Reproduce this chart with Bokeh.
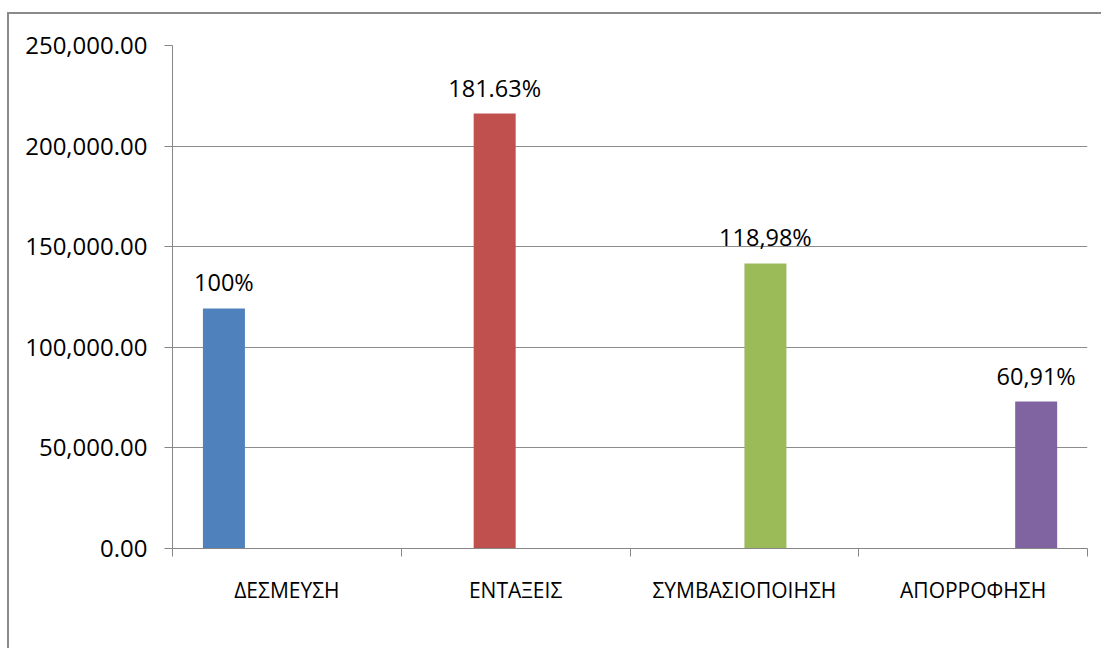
from bokeh.plotting import figure
from bokeh.models import Range1d, FixedTicker, NumeralTickFormatter, ColumnDataSource
from bokeh.embed import file_html
from bokeh.resources import INLINE
from bokeh.core.properties import value

categories = ["ΔΕΣΜΕΥΣΗ", "ΕΝΤΑΞΕΙΣ", "ΣΥΜΒΑΣΙΟΠΟΙΗΣΗ", "ΑΠΟΡΡΟΦΗΣΗ"]
values = [119300, 216200, 141700, 73000]
pct_labels = ["100%", "181.63%", "118,98%", "60,91%"]
colors = ["#4F81BD", "#C0504D", "#9BBB59", "#8064A2"]
y_ticks = [0, 50000, 100000, 150000, 200000, 250000]

FONT = "Open Sans"
n = len(categories)
gap = 0.133
bar_w = 0.1836
# each series occupies its own slot inside a clustered group (Excel-style)
xs = [i + 0.5 + (-0.5 + gap + bar_w * (i + 0.5)) for i in range(n)]

src = ColumnDataSource(dict(x=xs, top=values, color=colors, label=pct_labels))

p = figure(width=1094, height=636,
           x_range=Range1d(0, n), y_range=Range1d(0, 250000),
           output_backend="svg", toolbar_location=None,
           min_border_left=163, min_border_right=16,
           min_border_top=31, min_border_bottom=102)
p.styles = {"margin-top": "12px", "margin-left": "7px",
            "border-top": "2px solid #8a8a8a",
            "border-left": "2px solid #8a8a8a"}
p.outline_line_color = None
p.background_fill_color = "white"
p.border_fill_color = "white"

p.vbar(x="x", top="top", width=bar_w, bottom=0, color="color", line_color=None, source=src)
p.text(x="x", y="top", text="label", source=src, text_align="center",
       text_baseline="alphabetic", y_offset=-26,
       text_font=value(FONT), text_font_size="23.5px", text_color="black")

# y axis
p.yaxis.ticker = FixedTicker(ticks=y_ticks)
p.yaxis.formatter = NumeralTickFormatter(format="0,0.00")
p.yaxis.axis_line_color = "#868686"
p.yaxis.major_tick_line_color = "#868686"
p.yaxis.major_tick_out = 8
p.yaxis.major_tick_in = 0
p.yaxis.minor_tick_line_color = None
p.yaxis.major_label_standoff = 17
p.yaxis.major_label_text_font = FONT
p.yaxis.major_label_text_font_size = "24px"
p.yaxis.major_label_text_color = "black"

# x axis: labels at centres, tick marks at category boundaries
p.xaxis.ticker = FixedTicker(ticks=[i + 0.5 for i in range(n)],
                             minor_ticks=list(range(n + 1)))
p.xaxis.major_label_overrides = {i + 0.5: c for i, c in enumerate(categories)}
p.xaxis.axis_line_color = "#868686"
p.xaxis.major_tick_line_color = None
p.xaxis.major_tick_out = 0
p.xaxis.major_tick_in = 0
p.xaxis.minor_tick_line_color = "#868686"
p.xaxis.minor_tick_out = 8
p.xaxis.minor_tick_in = 0
p.xaxis.major_label_standoff = 19
p.xaxis.major_label_text_font = FONT
p.xaxis.major_label_text_font_size = "21px"
p.xaxis.major_label_text_color = "black"

p.xgrid.visible = False
p.ygrid.ticker = FixedTicker(ticks=y_ticks)
p.ygrid.grid_line_color = "#8c8c8c"
p.ygrid.grid_line_width = 1

open("out.html", "w").write(file_html(p, INLINE))
